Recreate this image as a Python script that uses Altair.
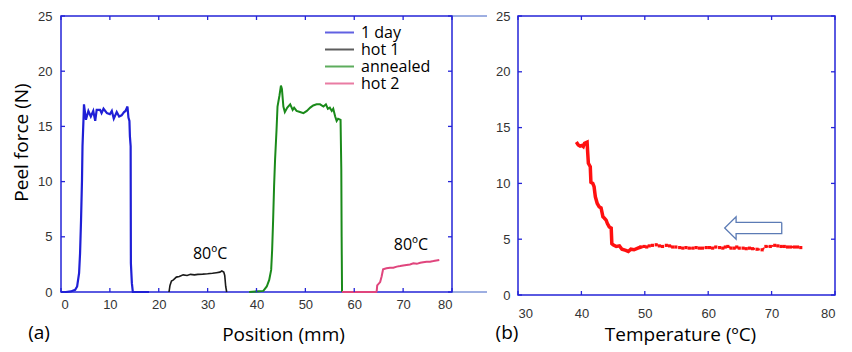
import altair as alt
import pandas as pd

# ---------------- data: panel (a) ----------------
day_x = [0, 1, 2, 2.9, 3.3, 3.7, 3.9, 4.1, 4.3, 4.4, 4.6, 4.7, 5.1, 5.6, 6.1, 6.6, 7.0, 7.3,
         8.0, 8.3, 8.7, 9.4, 10.0, 10.4, 10.8, 11.4, 11.9, 12.4, 12.9, 13.2, 13.6, 13.8,
         14.0, 14.1, 14.25, 14.3, 14.5, 14.7, 16, 18]
day_y = [0, 0, 0.05, 0.2, 0.5, 1.7, 3.5, 6.5, 10.2, 13.2, 15.6, 17.0, 15.6, 16.4, 15.9, 16.4, 15.5, 16.5,
         16.5, 16.2, 16.6, 16.2, 16.1, 16.4, 15.7, 16.3, 15.9, 16.0, 16.3, 16.4, 16.8, 15.8,
         15.5, 14.1, 13.2, 2.6, 0.8, 0, 0, 0]

hot1_x = [22.1, 22.3, 22.6, 23.0, 23.6, 24.2, 25.0, 25.8, 26.5, 27.3, 28.0, 29.0, 30.0, 31.0,
          31.8, 32.5, 32.9, 33.3, 33.5, 33.7, 33.9]
hot1_y = [0, 0.6, 1.0, 1.1, 1.35, 1.4, 1.55, 1.5, 1.6, 1.55, 1.6, 1.62, 1.65, 1.7,
          1.75, 1.8, 1.9, 1.8, 1.5, 0.5, 0]

ann_x = [38.5, 41.4, 42.1, 42.6, 43.0, 43.2, 43.4, 43.6, 43.8, 44.1, 44.3, 44.7, 45.0, 45.2,
         45.5, 45.8, 46.3, 46.9, 47.4, 47.7, 48.2, 48.9, 49.6, 50.3, 51.0, 51.6, 52.3, 53.0,
         53.7, 54.2, 54.6, 55.0, 55.4, 55.7, 56.1, 56.4, 56.7, 57.2, 57.35, 57.42, 57.5]
ann_y = [0, 0.1, 0.5, 1.1, 2.0, 3.8, 6.5, 9.6, 12.0, 14.7, 16.8, 17.8, 18.7, 18.4,
         16.8, 16.3, 16.7, 17.0, 16.5, 16.7, 16.4, 16.3, 16.2, 16.4, 16.7, 16.9, 17.0, 17.0,
         16.8, 17.0, 16.6, 16.7, 16.4, 16.6, 15.9, 15.5, 15.7, 15.6, 11.1, 5.0, 0]

hot2_x = [57.5, 64.5, 64.6, 64.7, 65.3, 65.6, 65.9, 66.6, 67.3, 68.0, 68.7, 69.4, 70.0, 70.7,
          71.4, 72.1, 72.8, 73.5, 74.1, 74.8, 75.5, 76.2, 76.8, 77.4]
hot2_y = [0, 0, 0.1, 0.6, 0.9, 1.4, 2.05, 2.15, 2.2, 2.2, 2.3, 2.35, 2.4, 2.45,
          2.5, 2.6, 2.55, 2.65, 2.7, 2.75, 2.75, 2.8, 2.85, 2.9]

series_names = ["1 day", "hot 1", "annealed", "hot 2"]
series_colors = ["#1f1fd6", "#1a1a1a", "#1a8a1a", "#e0457d"]
series_widths = [2.2, 1.6, 2.0, 2.0]

ann_text = ["80ºC", "80ºC"]
ann_tx = [30.5, 71.6]
ann_ty = [3.45, 4.27]

# ---------------- data: panel (b) ----------------
solid_T = [39.2, 39.5, 39.8, 40.1, 40.3, 40.5, 40.9, 41.0, 41.1, 41.4, 41.5, 41.8, 42.0, 42.2,
           42.5, 42.8, 43.1, 43.4, 43.6, 43.9, 44.1, 44.4, 44.7, 44.8, 45.0, 45.5, 46.0, 46.4,
           47.0, 47.4, 47.8, 48.3, 48.9, 49.4]
solid_F = [13.7, 13.45, 13.35, 13.4, 13.3, 13.6, 13.7, 12.7, 11.8, 11.5, 10.1, 10.0, 9.7, 8.8,
           8.2, 7.9, 7.8, 7.0, 6.9, 6.7, 6.4, 6.1, 6.0, 4.6, 4.5, 4.35, 4.4, 4.1,
           4.0, 3.9, 4.1, 4.05, 4.2, 4.3]
dot_T = [49.4, 49.9, 50.3, 50.7, 51.2, 51.8, 52.3, 52.8, 53.4, 53.9, 54.4, 54.9, 55.5, 56.0,
         56.5, 57.0, 57.6, 58.1, 58.6, 59.1, 59.7, 60.2, 60.7, 61.2, 61.8, 62.3, 62.7, 63.1,
         63.6, 64.1, 64.5, 64.9, 65.5, 66.0, 66.5, 67.0, 67.7, 68.5, 69.1, 69.8, 70.5, 71.0,
         71.5, 72.0, 72.5, 73.0, 73.6, 74.1, 74.6]
dot_F = [4.3, 4.35, 4.3, 4.4, 4.45, 4.5, 4.4, 4.35, 4.45, 4.4, 4.3, 4.3, 4.25, 4.2,
         4.25, 4.2, 4.2, 4.25, 4.2, 4.2, 4.25, 4.25, 4.2, 4.3, 4.25, 4.2, 4.3, 4.35,
         4.2, 4.2, 4.3, 4.2, 4.2, 4.15, 4.2, 4.15, 4.1, 4.05, 4.35, 4.35, 4.45, 4.4,
         4.35, 4.35, 4.3, 4.3, 4.3, 4.3, 4.25]

arrow_T = [71.6, 64.4, 64.4, 62.6, 64.4, 64.4, 71.6, 71.6]
arrow_F = [6.5, 6.5, 7.0, 6.0, 5.0, 5.5, 5.5, 6.5]

xticks_a = [0, 10, 20, 30, 40, 50, 60, 70, 80]
xticks_b = [30, 40, 50, 60, 70, 80]
yticks = [0, 5, 10, 15, 20, 25]
panel_labels = ["(a)", "(b)"]

# ---------------- layout ----------------
WA, HA = 391, 276
WB, HB = 317, 279
BLUE = "#2424d8"
TICKFONT = "Liberation Sans"
TFONT = "Open Sans"

rows = []
for name, xs, ys, w in zip(series_names, [day_x, hot1_x, ann_x, hot2_x],
                           [day_y, hot1_y, ann_y, hot2_y], series_widths):
    for i, (xv, yv) in enumerate(zip(xs, ys)):
        rows.append({"series": name, "x": xv, "y": yv, "i": i, "w": w})
df_a = pd.DataFrame(rows)

y_scale = alt.Scale(domain=[0, 25], nice=False)


def tick_layers(xticks, W, H, X, Y):
    tx = pd.DataFrame({"x": xticks})
    ty = pd.DataFrame({"y": yticks})
    base_x = alt.Chart(tx).mark_rule(color=BLUE, strokeWidth=1.3)
    base_y = alt.Chart(ty).mark_rule(color=BLUE, strokeWidth=1.3)
    return [
        base_x.encode(x=X, y=alt.value(H - 4), y2=alt.value(H)),
        base_x.encode(x=X, y=alt.value(0), y2=alt.value(4)),
        base_y.encode(y=Y, x=alt.value(0), x2=alt.value(4)),
        base_y.encode(y=Y, x=alt.value(W - 4), x2=alt.value(W)),
    ]


XA = alt.X("x:Q", scale=alt.Scale(domain=[0, 80], nice=False),
           axis=alt.Axis(values=xticks_a, title="Position (mm)", titleX=222, titleY=42,
                         titleBaseline="middle", labelPadding=6))
YA = alt.Y("y:Q", scale=y_scale,
           axis=alt.Axis(values=yticks, title="Peel force (N)", titleY=126,
                         titlePadding=6, labelPadding=9))

lines_a = alt.Chart(df_a).mark_line().encode(
    x=XA, y=YA,
    color=alt.Color("series:N", scale=alt.Scale(domain=series_names, range=series_colors),
                    legend=alt.Legend(title=None, orient="none", legendX=263, legendY=8,
                                      symbolType="stroke", symbolSize=841, symbolStrokeWidth=2,
                                      symbolOpacity=0.7, labelFont=TFONT, labelFontSize=16,
                                      labelColor="#000", labelOffset=6, rowPadding=0,
                                      clipHeight=17, padding=0)),
    strokeWidth=alt.StrokeWidth("w:Q", scale=None, legend=None),
    detail="series:N",
    order="i:Q",
)

ann_df = pd.DataFrame({"t": ann_text, "x": ann_tx, "y": ann_ty})
ann_a = alt.Chart(ann_df).mark_text(font=TFONT, fontSize=16, color="#000").encode(
    x=XA, y=YA, text="t:N")

lab_a = alt.Chart(pd.DataFrame({"t": [panel_labels[0]]})).mark_text(
    font=TFONT, fontSize=19, color="#000", baseline="middle", align="center").encode(
    x=alt.value(-22), y=alt.value(HA + 41), text="t:N")

one = pd.DataFrame({"k": [0]})
ext_top = alt.Chart(one).mark_rule(color="#3d5fc4", strokeWidth=1).encode(
    x=alt.value(WA), x2=alt.value(WA + 35), y=alt.value(0))
ext_bot = alt.Chart(one).mark_rule(color="#3d5fc4", strokeWidth=1).encode(
    x=alt.value(WA), x2=alt.value(WA + 35), y=alt.value(HA))

panel_a = alt.layer(lines_a, ann_a, lab_a, ext_top, ext_bot,
                    *tick_layers(xticks_a, WA, HA, XA, YA)).properties(width=WA, height=HA)

# ---------------- panel (b) ----------------
XB = alt.X("x:Q", scale=alt.Scale(domain=[30, 80], nice=False),
           axis=alt.Axis(values=xticks_b, title="Temperature (ºC)", titleX=162, titleY=39,
                         titleBaseline="middle", labelPadding=12))
YB = alt.Y("y:Q", scale=y_scale, axis=alt.Axis(values=yticks, title=None, labelPadding=8))

solid_df = pd.DataFrame({"x": solid_T, "y": solid_F, "i": range(len(solid_T))})
dot_df = pd.DataFrame({"x": dot_T, "y": dot_F, "i": range(len(dot_T))})
arrow_df = pd.DataFrame({"x": arrow_T, "y": arrow_F, "i": range(len(arrow_T))})

red_solid = alt.Chart(solid_df).mark_line(color="#ff1010", strokeWidth=3.5).encode(
    x=XB, y=YB, order="i:Q")
red_dot = alt.Chart(dot_df).mark_line(color="#ff1010", strokeWidth=2, strokeDash=[2, 3]).encode(
    x=XB, y=YB, order="i:Q")
red_pts = alt.Chart(dot_df).mark_square(color="#ff1010", size=10, opacity=1).encode(x=XB, y=YB)
arrow = alt.Chart(arrow_df).mark_line(color="#5b7bb5", strokeWidth=1.3).encode(
    x=XB, y=YB, order="i:Q")
lab_b = alt.Chart(pd.DataFrame({"t": [panel_labels[1]]})).mark_text(
    font=TFONT, fontSize=19, color="#000", baseline="middle", align="center").encode(
    x=alt.value(-11), y=alt.value(HB + 38), text="t:N")

panel_b = alt.layer(red_solid, red_dot, red_pts, arrow, lab_b,
                    *tick_layers(xticks_b, WB, HB, XB, YB)).properties(width=WB, height=HB)

chart = alt.hconcat(panel_a, panel_b, spacing=5).properties(
    padding={"left": 3, "top": 1, "right": 0, "bottom": 0}, background="white"
).configure_view(stroke=BLUE, strokeWidth=1.5).configure_axis(
    grid=False, ticks=False, domain=False, labelFont=TICKFONT, labelFontSize=13,
    labelColor="#333", titleFont=TFONT, titleFontSize=19, titleFontWeight="normal",
    titleColor="#000"
)

chart.save("out.html", embed_options={"renderer": "svg", "actions": False})
